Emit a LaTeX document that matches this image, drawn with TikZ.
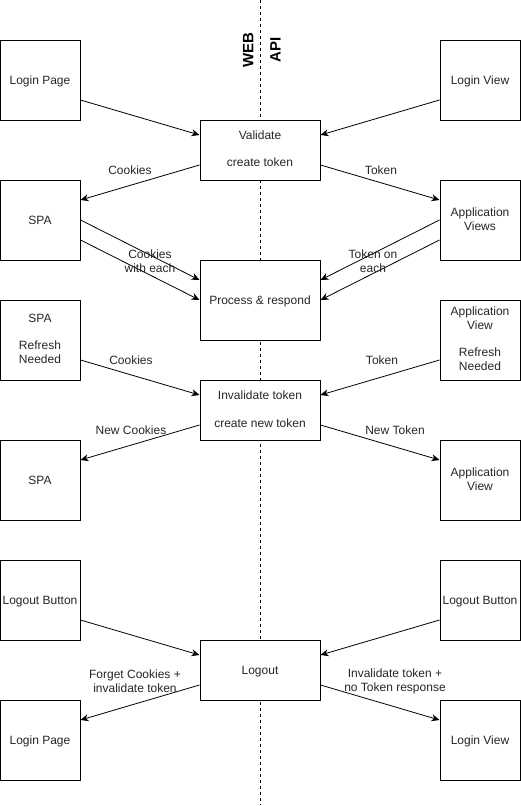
\documentclass[tikz,border=0pt]{standalone}
\usepackage{fontspec}
\setmainfont{Liberation Sans}
\usetikzlibrary{arrows.meta}
\newcommand\boxstrut{\rule[-2.54pt]{0pt}{13.4pt}}
\newcommand\tallstrut[1]{\rule[-2.54pt]{0pt}{#1}}
\begin{document}
\begin{tikzpicture}[x=1pt,y=-1pt,
  every node/.style={font=\fontsize{12}{14}\selectfont, text=black!85, align=center},
  box/.style={draw, fill=white, line width=1pt, inner sep=0pt, minimum width=80pt, minimum height=80pt,
    execute at begin node=\boxstrut, execute at end node=\boxstrut},
  mid/.style={box, minimum width=120pt, minimum height=60pt},
  down/.style={execute at begin node=\tallstrut{#1}},
  arr/.style={line width=0.8pt, -{Stealth[length=8pt,width=7pt,inset=2.5pt]}},
  lbl/.style={inner sep=0pt},
  side/.style={font=\fontsize{15}{17}\selectfont\bfseries, rotate=90, inner sep=0pt, text=black}
]
\useasboundingbox (0,0) rectangle (521,806);
\coordinate (dtop) at (260,0);
\coordinate (dbot) at (260,805);
\draw[line width=0.8pt, dash pattern=on 3pt off 3pt] (dtop) -- (dbot);
\node[side] (web) at (248.3,50) {WEB};
\node[side] (api) at (275.5,50) {API};

% boxes
\node[box] (lp1) at (40,80) {Login Page};
\node[box] (lv1) at (480,80) {Login View};
\node[mid,down=16.4pt] (val) at (260,150) {Validate\\[13.5pt]create token};
\node[box] (spa1) at (40,220) {SPA};
\node[box,down=15.4pt] (app1) at (480,220) {Application\\Views};
\node[mid,minimum height=80pt] (proc) at (260,300) {Process \& respond};
\node[box,down=17.4pt] (spar) at (40,340) {SPA\\[13.5pt]Refresh\\Needed};
\node[box,down=16.4pt] (appr) at (480,340) {Application\\View\\[13.5pt]Refresh\\Needed};
\node[mid,down=17.4pt] (inv) at (260,410) {Invalidate token\\[14pt]create new token};
\node[box] (spa2) at (40,480) {SPA};
\node[box,down=15.4pt] (app2) at (480,480) {Application\\View};
\node[box] (lob1) at (40,600) {Logout Button};
\node[box] (lob2) at (480,600) {Logout Button};
\node[mid] (lo) at (260,670) {Logout};
\node[box] (lp2) at (40,740) {Login Page};
\node[box] (lv2) at (480,740) {Login View};

% connectors
\draw[arr] ([yshift=-20pt]lp1.east) -- ([yshift=15pt]val.west);
\draw[arr] ([yshift=-20pt]lv1.west) -- ([yshift=15pt]val.east);
\draw[arr] ([yshift=-15pt]val.west) -- ([yshift=20pt]spa1.east);
\draw[arr] ([yshift=-15pt]val.east) -- ([yshift=20pt]app1.west);
\draw[arr] (spa1.east) -- ([yshift=20pt]proc.west);
\draw[arr] ([yshift=-20pt]spa1.east) -- (proc.west);
\draw[arr] (app1.west) -- ([yshift=20pt]proc.east);
\draw[arr] ([yshift=-20pt]app1.west) -- (proc.east);
\draw[arr] ([yshift=-20pt]spar.east) -- ([yshift=15pt]inv.west);
\draw[arr] ([yshift=-20pt]appr.west) -- ([yshift=15pt]inv.east);
\draw[arr] ([yshift=-15pt]inv.west) -- ([yshift=20pt]spa2.east);
\draw[arr] ([yshift=-15pt]inv.east) -- ([yshift=20pt]app2.west);
\draw[arr] ([yshift=-20pt]lob1.east) -- ([yshift=15pt]lo.west);
\draw[arr] ([yshift=-20pt]lob2.west) -- ([yshift=15pt]lo.east);
\draw[arr] ([yshift=-15pt]lo.west) -- ([yshift=20pt]lp2.east);
\draw[arr] ([yshift=-15pt]lo.east) -- ([yshift=20pt]lv2.west);

% labels
\node[lbl] (l1) at (130,170) {Cookies};
\node[lbl] (l2) at (381,170) {Token};
\node[lbl] (l3) at (150,261) {Cookies\\with each};
\node[lbl] (l4) at (373,261) {Token on\\each};
\node[lbl] (l5) at (131,360.5) {Cookies};
\node[lbl] (l6) at (382,360.5) {Token};
\node[lbl] (l7) at (131,430.5) {New Cookies};
\node[lbl] (l8) at (395,430.5) {New Token};
\node[lbl] (l9) at (135,681) {Forget Cookies +\\invalidate token};
\node[lbl] (l10) at (395,681) {Invalidate token +\\no Token response};
\end{tikzpicture}
\end{document}
